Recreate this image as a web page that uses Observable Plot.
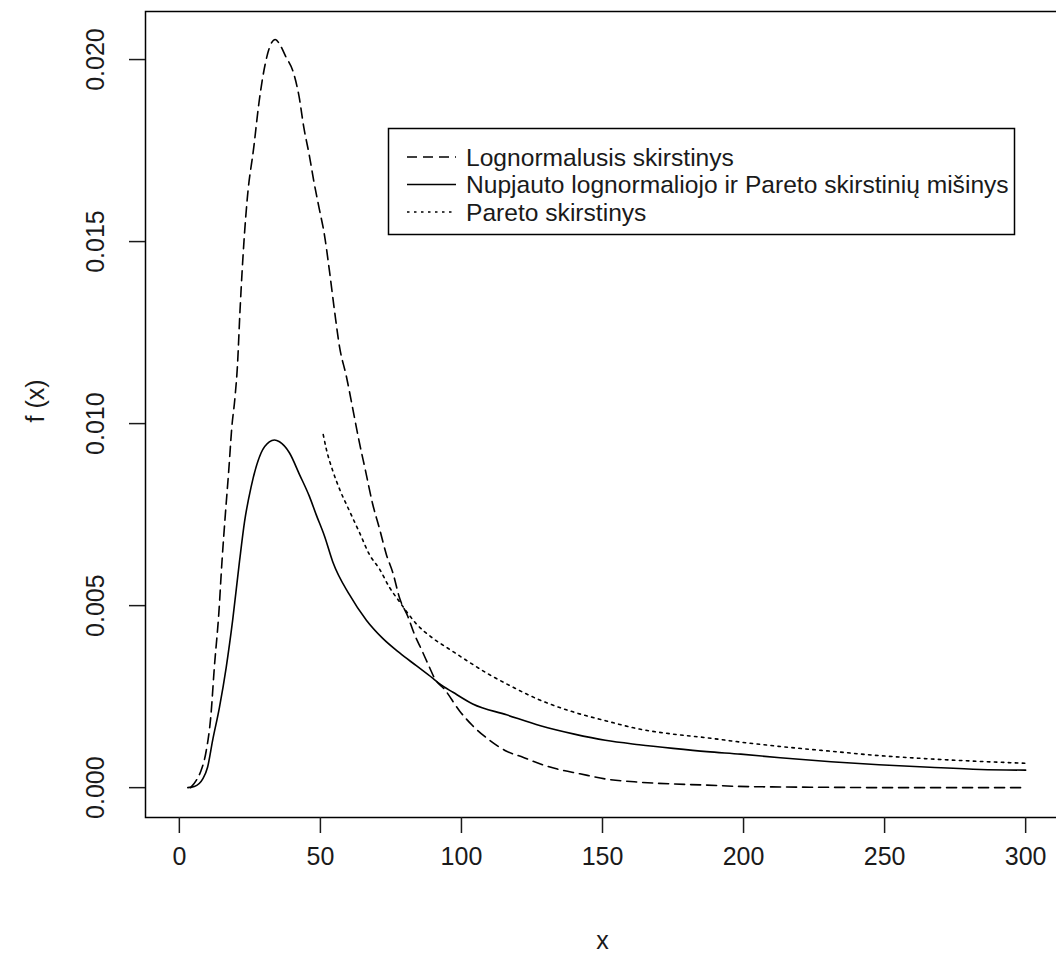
<!DOCTYPE html>
<html>
<head>
<meta charset="utf-8">
<script src="https://cdn.jsdelivr.net/npm/d3@7"></script>
<script src="https://cdn.jsdelivr.net/npm/@observablehq/plot@0.6"></script>
<style>
html, body { margin: 0; padding: 0; background: #fff; overflow: hidden; }
#wrap { position: relative; width: 1056px; height: 957px; }
#legend { position: absolute; left: 0; top: 0; pointer-events: none; }
</style>
</head>
<body>
<div id="wrap"></div>
<script>
// ---- data ----
const lognormX = [4, 6, 7.7, 9.5, 11.2, 12.4, 14, 15.1, 16.3, 17.5, 18.6, 19.7, 20.6, 21.5, 22.9, 24.1, 26.4, 28.2, 30.5, 32.3, 34, 35.7, 37.6, 40.6, 42.4, 44.2, 46, 47.8, 49.6, 51.4, 53.2, 55, 56.8, 59.2, 61.5, 63.5, 66, 68.5, 71, 73.4, 75.7, 78.1, 81, 83.4, 85.8, 88.7, 90.5, 94, 99.4, 104, 110, 116, 122, 128, 134, 142, 151, 163, 175, 187, 196, 210, 230, 250, 275, 300];
const lognormY = [0, 0.0002, 0.00047, 0.001, 0.002, 0.0033, 0.0048, 0.0062, 0.0075, 0.0087, 0.0099, 0.0107, 0.0116, 0.0131, 0.015, 0.0162, 0.0176, 0.0188, 0.0199, 0.0204, 0.02055, 0.0204, 0.0201, 0.0196, 0.019, 0.0181, 0.0174, 0.0166, 0.0159, 0.0152, 0.0142, 0.0131, 0.0121, 0.0113, 0.0104, 0.0096, 0.0087, 0.0078, 0.0071, 0.0064, 0.0059, 0.0052, 0.0047, 0.0042, 0.0038, 0.0033, 0.003, 0.0027, 0.0021, 0.0017, 0.0013, 0.001, 0.00083, 0.00065, 0.00051, 0.00038, 0.00024, 0.00015, 0.0001, 0.00007, 0.00004, 0.00002, 0.00001, 0, 0, 0];

const mixX = [3, 5.3, 8.3, 10, 11.8, 14.2, 16.6, 18.9, 21.3, 23.1, 25.4, 29, 31.9, 33.7, 35.5, 39, 42.6, 46.1, 48.5, 51.5, 54.4, 60.3, 66.3, 72.1, 78.1, 84, 89.9, 92.3, 97, 104, 116, 128, 140, 151, 163, 175, 187, 199, 213, 231, 248, 266, 284, 300];
const mixY = [0, 0.00003, 0.00024, 0.00056, 0.0013, 0.0022, 0.0033, 0.0046, 0.0062, 0.0073, 0.00825, 0.0092, 0.0095, 0.00955, 0.0095, 0.0092, 0.0086, 0.008, 0.0075, 0.0069, 0.0062, 0.0053, 0.0046, 0.0041, 0.0037, 0.00335, 0.003, 0.00285, 0.00262, 0.0023, 0.002, 0.0017, 0.00147, 0.0013, 0.00118, 0.00108, 0.00099, 0.00092, 0.00082, 0.00071, 0.00063, 0.00056, 0.0005, 0.00048];

const paretoX = [51, 52.1, 54.4, 56.8, 60.3, 63.9, 67.4, 71, 74.5, 78.1, 84, 89.9, 95.8, 101.7, 110, 116, 128, 140, 151, 163, 175, 187, 199, 213, 231, 248, 266, 284, 300];
const paretoY = [0.0097, 0.0093, 0.0087, 0.0082, 0.0076, 0.007, 0.0064, 0.006, 0.0055, 0.0051, 0.0045, 0.0041, 0.0038, 0.0035, 0.0031, 0.00285, 0.0024, 0.00207, 0.00184, 0.00161, 0.00147, 0.00137, 0.00125, 0.00113, 0.001, 0.00088, 0.00079, 0.00072, 0.00067];

const xTicks = [0, 50, 100, 150, 200, 250, 300];
const yTicks = [0, 0.005, 0.01, 0.015, 0.02];
const legendLabels = ["Lognormalusis skirstinys", "Nupjauto lognormaliojo ir Pareto skirstinių mišinys", "Pareto skirstinys"];
const xLabel = "x";
const yLabel = "f (x)";

// ---- styles ----
const FONT = "'Liberation Sans', Arial, Helvetica, sans-serif";
const INK = "#1a1a1a";
const dashes = ["10,6", null, "2.5,4.5"];
const LW = 1.6;

const seriesX = [lognormX, mixX, paretoX];
const seriesY = [lognormY, mixY, paretoY];
const lineMarks = seriesX.map((xs, k) => {
  const rows = xs.map((x, i) => ({x, y: seriesY[k][i]}));
  return Plot.line(rows, {x: "x", y: "y", stroke: "black", strokeWidth: LW,
    strokeDasharray: dashes[k] || undefined, strokeLinejoin: "round", curve: "monotone-x"});
});

const chart = Plot.plot({
  width: 1056,
  height: 957,
  marginLeft: 145,
  marginRight: -3,
  marginTop: 11,
  marginBottom: 140,
  style: {fontFamily: FONT, fontSize: "25px", color: INK, background: "white"},
  x: {domain: [-12, 312], label: null},
  y: {domain: [-0.00082, 0.02132], label: null},
  marks: [
    ...lineMarks,
    Plot.frame({stroke: "black", strokeWidth: 1.5}),
    Plot.axisX({ticks: xTicks, tickSize: 16, tickPadding: 14, fontSize: 25, strokeWidth: 1.5,
      tickFormat: d => String(d), label: null}),
    Plot.axisY({ticks: yTicks, tickSize: 16, strokeWidth: 1.5, tickFormat: () => "", label: null}),
    Plot.text(yTicks, {y: d => d, text: d => d.toFixed(3), frameAnchor: "left", dx: -50,
      rotate: -90, fontSize: 25, textAnchor: "middle", lineAnchor: "middle", fill: INK}),
    Plot.text([xLabel], {text: d => d, frameAnchor: "bottom", dy: 123, fontSize: 25, lineAnchor: "middle", fill: INK}),
    Plot.text([yLabel], {text: d => d, frameAnchor: "left", dx: -110, dy: 8, rotate: -90, fontSize: 25, lineAnchor: "middle", fill: INK})
  ]
});

const wrap = document.getElementById("wrap");
wrap.appendChild(chart);

// ---- legend (inside the plot box, drawn as an overlay) ----
const NS = "http://www.w3.org/2000/svg";
const lg = document.createElementNS(NS, "svg");
lg.setAttribute("id", "legend");
lg.setAttribute("width", 1056);
lg.setAttribute("height", 957);
const box = document.createElementNS(NS, "rect");
box.setAttribute("x", 388.5); box.setAttribute("y", 128.5);
box.setAttribute("width", 626); box.setAttribute("height", 106);
box.setAttribute("fill", "white"); box.setAttribute("stroke", "black"); box.setAttribute("stroke-width", 1.5);
lg.appendChild(box);
const rowY = [157, 184.5, 212];
legendLabels.forEach((lab, k) => {
  const ln = document.createElementNS(NS, "line");
  ln.setAttribute("x1", 407); ln.setAttribute("x2", 456);
  ln.setAttribute("y1", rowY[k]); ln.setAttribute("y2", rowY[k]);
  ln.setAttribute("stroke", "black"); ln.setAttribute("stroke-width", LW);
  if (dashes[k]) ln.setAttribute("stroke-dasharray", dashes[k]);
  lg.appendChild(ln);
  const t = document.createElementNS(NS, "text");
  t.setAttribute("x", 466); t.setAttribute("y", rowY[k]);
  t.setAttribute("dy", "0.35em");
  t.setAttribute("font-family", FONT);
  t.setAttribute("font-size", 24.6);
  t.setAttribute("fill", INK);
  t.textContent = lab;
  lg.appendChild(t);
});
wrap.appendChild(lg);
</script>
</body>
</html>
